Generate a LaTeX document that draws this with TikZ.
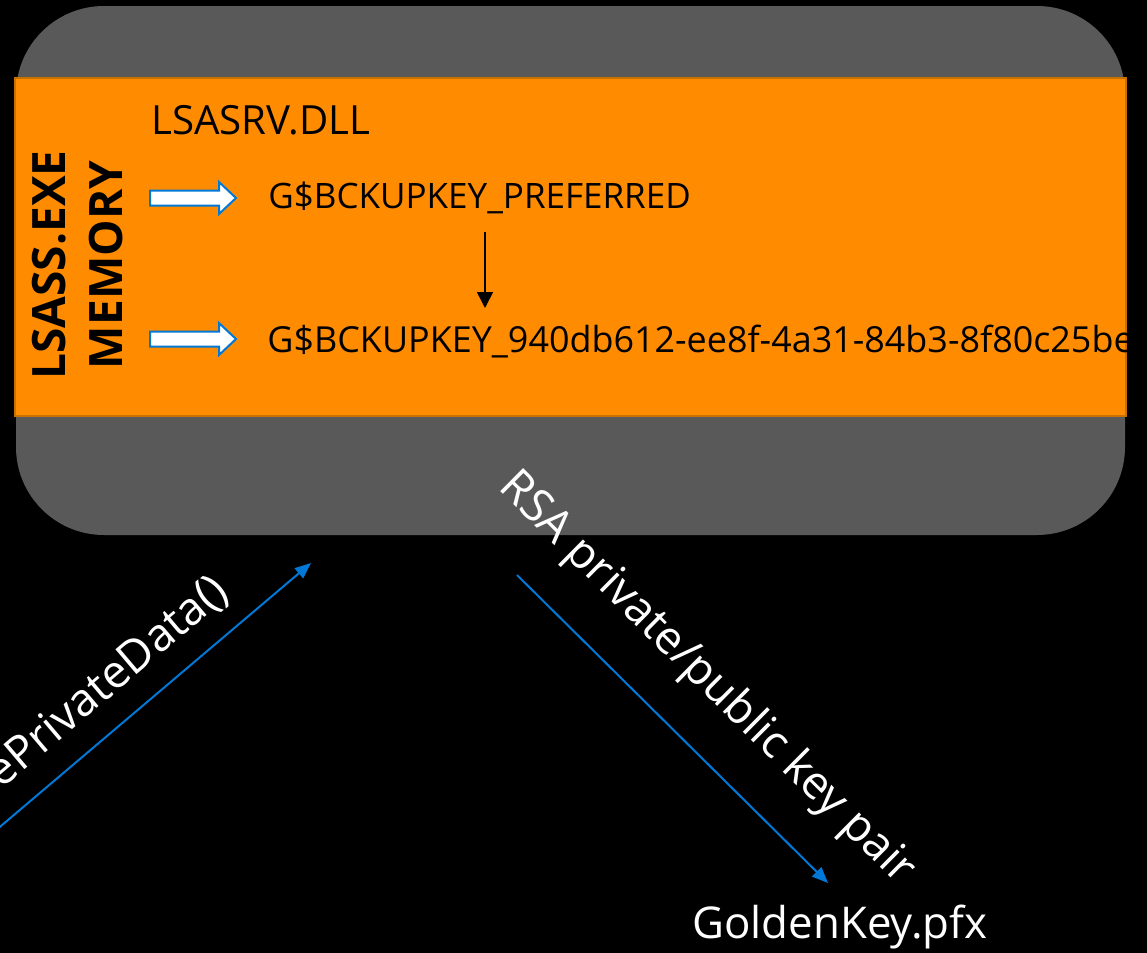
\documentclass[tikz,border=0pt]{standalone}
\usepackage{fontspec}
\setmainfont{Open Sans}
\usetikzlibrary{arrows.meta}
\definecolor{panelgray}{HTML}{595959}
\definecolor{memorange}{HTML}{FF8C00}
\definecolor{memedge}{HTML}{C87000}
\definecolor{flowblue}{HTML}{0078D7}
\begin{document}
\begin{tikzpicture}[x=0.5pt,y=-0.5pt,
  panel/.style={rectangle, fill=panelgray, rounded corners=44pt,
    minimum width=554.5pt, minimum height=264.5pt, inner sep=0pt},
  membox/.style={rectangle, fill=memorange, draw=memedge, line width=0.8pt,
    minimum width=555.5pt, minimum height=169pt, inner sep=0pt},
  blockarrow/.style={fill=white, draw=flowblue, line width=1pt, line join=miter},
  keytext/.style={text=black, inner sep=0pt, font=\fontsize{17.5}{21}\selectfont},
  whitetext/.style={text=white, inner sep=0pt, font=\fontsize{22.8}{27}\selectfont},
  flow/.style={draw=flowblue, line width=1pt,
    -{Triangle[length=8pt,width=6.5pt]}},
  link/.style={draw=black, line width=0.8pt,
    -{Triangle[length=8pt,width=8pt]}}]
\useasboundingbox (0,0) rectangle (1147,953);
\fill[black] (0,0) rectangle (1147,953);

% process panel and its memory band
\node[panel] (proc) at (570.5,270.5) {};
\node[membox] (mem) at (570.5,247) {};

% vertical caption of the memory band
\node[rotate=90, align=center, inner sep=0pt,
  font=\bfseries\fontsize{23}{28.5}\selectfont] (cap) at (78,265)
  {LSASS.EXE\\MEMORY};

\node[anchor=base west, inner sep=0pt, font=\fontsize{20.1}{24}\selectfont]
  (dll) at (151,134) {LSASRV.DLL};

% pointers into the module (hollow block arrows)
\coordinate (ptr1) at (150,198);
\coordinate (ptr2) at (150,339);
\foreach \p in {ptr1,ptr2}
  \draw[blockarrow] (\p) ++(0,-7.5) -- ++(69,0) -- ++(0,-8.5) -- ++(17,16)
    -- ++(-17,16) -- ++(0,-8.5) -- ++(-69,0) -- cycle;

\node[keytext, anchor=base west] (pref) at (268,208) {G\$BCKUPKEY\_PREFERRED};
\begin{scope}
  \clip (15,78) rectangle (1126,416);
  \node[keytext, anchor=base west, font=\fontsize{17.95}{21}\selectfont] (guid)
    at (267,352) {G\$BCKUPKEY\_940db612-ee8f-4a31-84b3-8f80c25be};
\end{scope}

\coordinate (dtop) at (485,232);
\coordinate (dbot) at (485,308);
\draw[link] (dtop) -- (dbot);

% call into LSASS and the exported key
\coordinate (callsrc) at (-5,831);
\coordinate (calldst) at (311,563);
\draw[flow] (callsrc) -- (calldst);
\node[whitetext, rotate=40.3, anchor=base east] (calllbl) at (231,595)
  {ePrivateData()};

\coordinate (keysrc) at (517,575);
\coordinate (keydst) at (828,883);
\draw[flow] (keysrc) -- (keydst);
\node[whitetext, rotate=-44.7, anchor=base] (keylbl) at (698,687)
  {RSA private/public key pair};

\node[whitetext, anchor=base west, font=\fontsize{21.9}{26}\selectfont]
  (pfx) at (692,938) {GoldenKey.pfx};
\end{tikzpicture}
\end{document}
